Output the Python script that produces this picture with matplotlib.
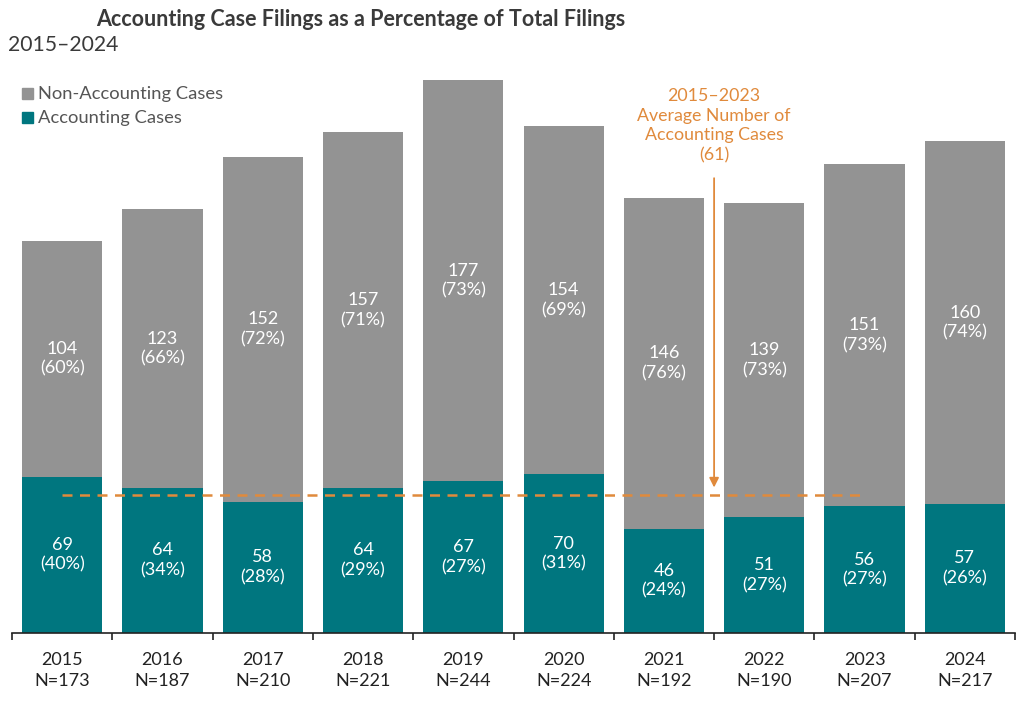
import matplotlib
matplotlib.use("Agg")
import matplotlib.pyplot as plt
from matplotlib.patches import Rectangle

years = ["2015", "2016", "2017", "2018", "2019", "2020", "2021", "2022", "2023", "2024"]
accounting = [69, 64, 58, 64, 67, 70, 46, 51, 56, 57]
non_accounting = [104, 123, 152, 157, 177, 154, 146, 139, 151, 160]
acc_pct = [40, 34, 28, 29, 27, 31, 24, 27, 27, 26]
non_pct = [60, 66, 72, 71, 73, 69, 76, 73, 73, 74]
totals = [173, 187, 210, 221, 244, 224, 192, 190, 207, 217]
avg_value = 61

GRAY = "#939393"
TEAL = "#00767F"
ORANGE = "#E08A3C"
DARK = "#222222"

plt.rcParams['font.family'] = ['Lato', 'DejaVu Sans']

fig = plt.figure(figsize=(10.24, 7.12), dpi=100)
W, H = 1024, 712
ax = fig.add_axes([12 / W, 1 - 633 / H, (1015 - 12) / W, 589 / H])

x = list(range(len(years)))
ax.bar(x, accounting, width=0.8, color=TEAL, zorder=2)
ax.bar(x, non_accounting, width=0.8, bottom=accounting, color=GRAY, zorder=2)

for i in x:
    ax.text(i, accounting[i] / 2, f"{accounting[i]}\n({acc_pct[i]}%)", ha="center", va="center",
            color="white", fontsize=13, linespacing=1.3, zorder=3)
    ax.text(i, accounting[i] + non_accounting[i] / 2, f"{non_accounting[i]}\n({non_pct[i]}%)",
            ha="center", va="center", color="white", fontsize=13, linespacing=1.3, zorder=3)

# average dashed line 2015-2023
ax.plot([0, 8], [avg_value, avg_value], color=ORANGE, linestyle=(0, (4, 3)), linewidth=1.8, zorder=4)
ax.annotate("", xy=(6.5, avg_value + 2), xytext=(6.5, 202),
            arrowprops=dict(arrowstyle="-|>", color=ORANGE, lw=1.3, mutation_scale=14), zorder=4)
ax.text(6.5, 240.5, "2015–2023\nAverage Number of\nAccounting Cases\n(61)", ha="center", va="top",
        color=ORANGE, fontsize=12.8, linespacing=1.28)

ax.set_xlim(-0.5, 9.5)
ax.set_ylim(0, 260)
ax.set_yticks([])
for s in ["top", "right", "left"]:
    ax.spines[s].set_visible(False)
ax.spines["bottom"].set_color(DARK)
ax.spines["bottom"].set_linewidth(1.2)
ax.set_xticks([i - 0.5 for i in range(len(years) + 1)])
ax.set_xticklabels([])
ax.tick_params(axis="x", length=5, width=1.2, color=DARK)
for i in x:
    ax.text(i, -0.033, f"{years[i]}\nN={totals[i]}", transform=ax.get_xaxis_transform(),
            ha="center", va="top", fontsize=13, color=DARK, linespacing=1.35)

# title
fig.text(96 / W, 1 - 20 / H, "Accounting Case Filings as a Percentage of Total Filings",
         ha="left", va="center", fontsize=15.5, fontweight="bold", color="#3a3a3a")
fig.text(8 / W, 1 - 45 / H, "2015–2024", ha="left", va="center", fontsize=15.2, color="#3a3a3a")

# legend
for yy, col, lab in [(94, GRAY, "Non-Accounting Cases"), (118, TEAL, "Accounting Cases")]:
    fig.patches.append(Rectangle((22 / W, 1 - (yy + 5) / H), 11 / W, 11 / H,
                                 transform=fig.transFigure, color=col, figure=fig))
    fig.text(38 / W, 1 - yy / H, lab, ha="left", va="center", fontsize=13.2, color="#555555")

fig.savefig("out.png", dpi=100)
